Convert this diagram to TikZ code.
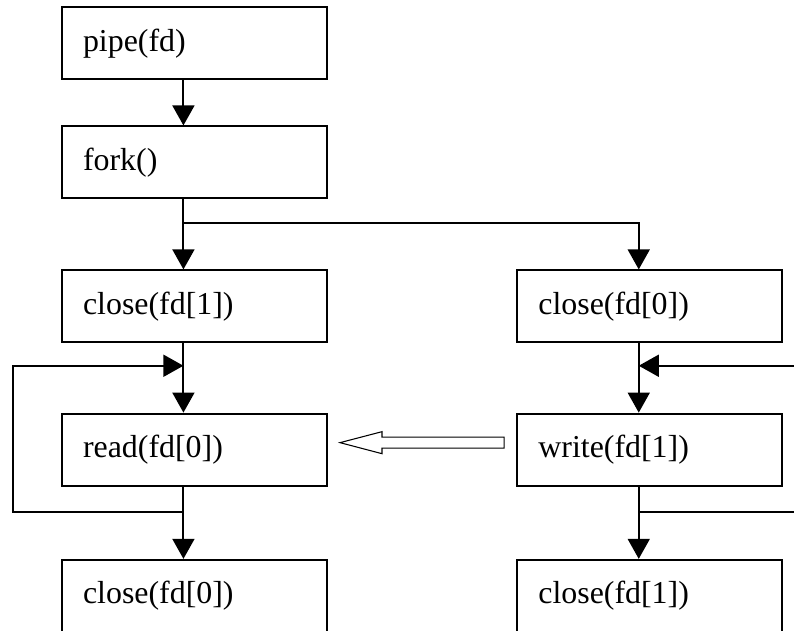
\documentclass[tikz,border=0pt]{standalone}
\usepackage{fontspec}
\setmainfont{Liberation Serif}
\usepackage{tikz}
\usetikzlibrary{arrows.meta,calc,positioning}

\begin{document}
\begin{tikzpicture}[line width=1.5pt,
	box/.style={draw, rectangle, text width=5.89cm, inner xsep=0.56cm, minimum height=1.905cm, align=left, font=\fontsize{24}{28}\selectfont},
	arr/.style={-{Triangle[length=0.53cm,width=0.58cm]}}]
		\clip (0,0) rectangle (21.0,-16.67);
		
		\node[box, anchor=north west] (pipe) at (1.61,-0.17) {pipe(fd)};
		
		\node[box, below =1.19cm of pipe] (fork) {fork()};
		
		\node[box, below =1.85cm of fork] (pcl) {close(fd[1])};
		
		\node[box, right =4.98cm of pcl] (ccl) {close(fd[0])};
		
		\node[box, below =1.83cm of pcl] (rd) {read(fd[0])};
		
		\node[box, below =1.83cm of ccl] (wr) {write(fd[1])};
		
		\node[box, below =1.91cm of rd] (pend) {close(fd[0])};
		
		\node[box, below =1.91cm of wr] (cend) {close(fd[1])};
		
		\coordinate (lx) at (0.34,0);
		\coordinate (rx) at (21.2,0);
		
		\draw[arr] ([xshift=-0.29cm]pipe.south) -- ([xshift=-0.29cm]fork.north);
		
		\draw[arr] ([xshift=-0.29cm]fork.south) -- ([xshift=-0.29cm]pcl.north);
		
		\draw[arr] ($(fork.south)+(-0.29,-0.63)$) -| ([xshift=-0.29cm]ccl.north);
		
		\draw[arr] ([xshift=-0.29cm]pcl.south) -- ([xshift=-0.29cm]rd.north);
		
		\draw[arr] ([xshift=-0.29cm]ccl.south) -- ([xshift=-0.29cm]wr.north);
		
		\draw[arr] ([xshift=-0.29cm]rd.south) -- ([xshift=-0.29cm]pend.north);
		
		\draw[arr] ([xshift=-0.29cm]wr.south) -- ([xshift=-0.29cm]cend.north);
		
		% read loop
		\draw[arr] ($(rd.south)+(-0.29,-0.66)$) -| ($(lx |- rd.north)+(0,1.24)$) -- ($(rd.north)+(-0.29,1.24)$);
		
		% write loop ends
		\draw[arr] ($(rx |- wr.north)+(0,1.24)$) -- ($(wr.north)+(-0.29,1.24)$);
		\draw ($(wr.south)+(-0.29,-0.66)$) -- ($(rx |- wr.south)+(0,-0.66)$);
		
		% data through the pipe
		\draw[line width=0.8pt, line join=miter] ($(rd.east)+(0.32,0.185)$) -- ++(1.11,0.29) -- ++(0,-0.144)
			-- ($(wr.west)+(-0.32,0.331)$) -- ($(wr.west)+(-0.32,0.039)$)
			-- ($(rd.east)+(1.43,0.039)$) -- ++(0,-0.146) -- cycle;
		\end{tikzpicture}
\end{document}
